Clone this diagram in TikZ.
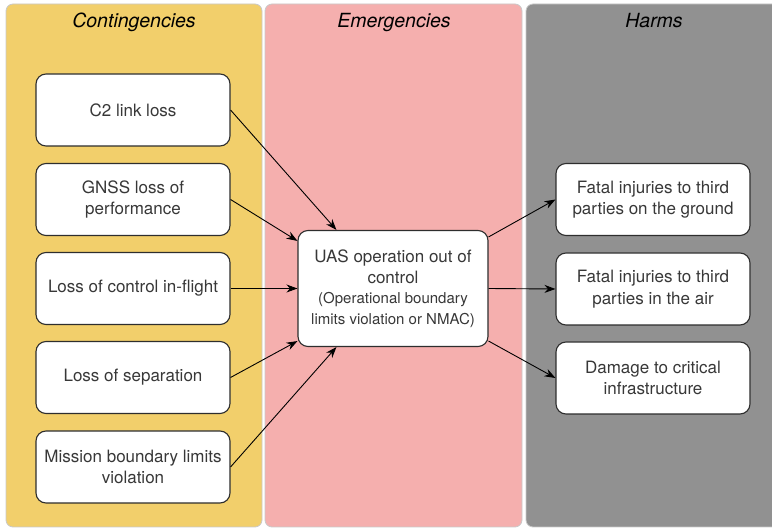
\documentclass[tikz,border=0pt]{standalone}
\usepackage{fontspec}
\setmainfont{TeX Gyre Heros}
\usetikzlibrary{arrows.meta,calc}
\definecolor{contfill}{HTML}{F2CF6B}
\definecolor{emerfill}{HTML}{F5AFAE}
\definecolor{harmfill}{HTML}{919191}
\definecolor{panelrule}{HTML}{C9C9C9}
\definecolor{boxrule}{HTML}{2E2E2E}
\definecolor{boxtext}{HTML}{383838}
\newcommand{\subtextsize}{\fontsize{15}{17.5}\selectfont}
\tikzset{
  panel/.style={draw=panelrule, line width=0.8pt, rounded corners=7pt},
  paneltitle/.style={font=\fontsize{19.5}{22}\selectfont\itshape, text=black},
  evbox/.style={draw=boxrule, line width=1.1pt, fill=white, rounded corners=10pt,
    minimum width=194pt, minimum height=72pt, align=center, inner sep=2pt,
    text=boxtext, font=\fontsize{17}{21.5}\selectfont},
  flow/.style={draw=black, line width=0.9pt, -{Stealth[length=11pt,width=8pt]}}
}
\begin{document}
\begin{tikzpicture}[x=1pt,y=-1pt]
\useasboundingbox (0,0) rectangle (772,529);
\clip (0,0) rectangle (772,529);

% column panels
\draw[panel, fill=contfill] (6,4) rectangle (262,527);
\draw[panel, fill=emerfill] (265,4) rectangle (522,527);
\draw[panel, fill=harmfill] (526,4) rectangle (785,527);

\node[paneltitle, anchor=base] (tcont) at (134,28) {Contingencies};
\node[paneltitle, anchor=base] (temer) at (394,28) {Emergencies};
\node[paneltitle, anchor=base] (tharm) at (654,28) {Harms};

% contingencies
\node[evbox] (c2)   at (133,110)   {C2 link loss};
\node[evbox] (gnss) at (133,199.5) {GNSS loss of\\performance};
\node[evbox] (loc)  at (133,288.5) {Loss of control in-flight};
\node[evbox] (los)  at (133,377.5) {Loss of separation};
\node[evbox] (mbl)  at (133,467)   {Mission boundary limits\\violation};

% emergency
\node[evbox, minimum width=190pt, minimum height=116pt] (uas) at (393,288.5)
  {UAS operation out of\\control\\[-2pt]
   \subtextsize (Operational boundary\\\subtextsize limits violation or NMAC)};

% harms
\node[evbox] (ground) at (653,199.5) {Fatal injuries to third\\parties on the ground};
\node[evbox] (air)    at (653,289)   {Fatal injuries to third\\parties in the air};
\node[evbox] (infra)  at (653,378)   {Damage to critical\\infrastructure};

% contingencies lead to the emergency
\draw[flow] (c2.east)   -- ([xshift=39pt]uas.north west);
\draw[flow] (gnss.east) -- ([yshift=-11pt]uas.north west);
\draw[flow] (loc.east)  -- (uas.west);
\draw[flow] (los.east)  -- ([yshift=6pt]uas.south west);
\draw[flow] (mbl.east)  -- ([xshift=39pt]uas.south west);

% emergency leads to harms
\draw[flow] ([yshift=-7pt]uas.north east) -- (ground.west);
\draw[flow] (uas.east) -- (air.west);
\draw[flow] ([yshift=6pt]uas.south east) -- (infra.west);
\end{tikzpicture}
\end{document}
